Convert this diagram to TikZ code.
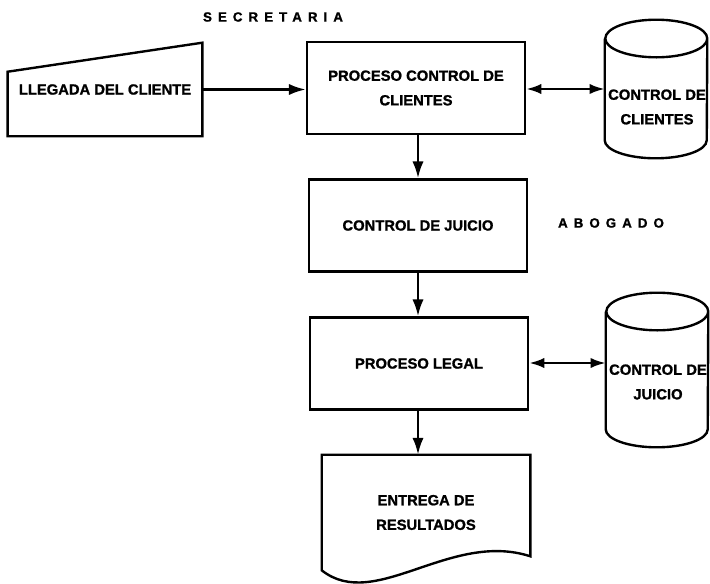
\documentclass[tikz,border=0pt]{standalone}
\usepackage{fontspec}
\setmainfont{Liberation Sans}[BoldFeatures={FakeBold=1.2}]
\usetikzlibrary{arrows.meta}

\tikzset{
  boxfont/.style={font=\bfseries\fontsize{10.5}{17.5}\selectfont},
  procbox/.style={draw, line width=1.7pt, minimum width=5.45cm, minimum height=2.3cm, align=center, boxfont},
  shapenode/.style={minimum width=#1, inner sep=0pt, align=center, boxfont},
  rolelabel/.style={font=\bfseries\fontsize{9.5}{11}\selectfont\addfontfeature{LetterSpace=45}},
  outline/.style={line width=1.7pt},
  flow/.style={line width=1.8pt, -{Latex[length=4.2mm,width=2.8mm]}},
  biflow/.style={line width=1.8pt, {Latex[length=3.8mm,width=2.6mm]}-{Latex[length=3.8mm,width=2.6mm]}}
}

% cylinder outline round a node
\newcommand{\dbdraw}[1]{%
  \draw[outline] ([yshift=-0.47cm]#1.north west) -- ([yshift=0.45cm]#1.south west)
    arc[start angle=180, end angle=360, x radius=1.275cm, y radius=0.45cm]
    -- ([yshift=-0.47cm]#1.north east)
    arc[start angle=0, end angle=360, x radius=1.275cm, y radius=0.47cm];
}

\begin{document}
\begin{tikzpicture}[x=0.025cm, y=-0.025cm]
  \useasboundingbox (0,0) rectangle (710,584);

  % Role labels
  \node[rolelabel] (secretaria) at (273,17) {SECRETARIA};
  \node[rolelabel] (abogado) at (611,223) {ABOGADO};

  % Arrival of the client (manual input)
  \node[shapenode=4.85cm, minimum height=2.325cm] (llegada) at (105,89.5) {LLEGADA DEL CLIENTE};
  \draw[outline] (llegada.south west) -- ([yshift=-0.725cm]llegada.north west)
    -- (llegada.north east) -- (llegada.south east) -- cycle;

  % Process boxes
  \node[procbox] (procClientes) at (416,88) {PROCESO CONTROL DE\\CLIENTES};
  \node[procbox] (ctrlJuicio) at (418,225.5) {CONTROL DE JUICIO};
  \node[procbox] (procLegal) at (419,363.5) {PROCESO LEGAL};

  % Data stores
  \node[shapenode=2.55cm, minimum height=3.45cm] (dbClientes) at (656,89) {};
  \dbdraw{dbClientes}
  \node[boxfont, align=center] (dbClientesText) at (657,107) {CONTROL DE\\CLIENTES};

  \node[shapenode=2.55cm, minimum height=3.85cm] (dbJuicio) at (657,370) {};
  \dbdraw{dbJuicio}
  \node[boxfont, align=center] (dbJuicioText) at (658,382) {CONTROL DE\\JUICIO};

  % Result document
  \node[shapenode=5.2cm, minimum height=2.875cm] (entrega) at (426,512.5) {ENTREGA DE\\RESULTADOS};
  \draw[outline] (entrega.north east) -- (entrega.north west) -- (entrega.south west)
    .. controls +(53,42) and +(-80,-26) .. ([yshift=0.35cm]entrega.south east) -- cycle;

  % Arrows
  \draw[flow] (llegada.east) -- (procClientes.west |- llegada.east);
  \draw[biflow] (procClientes.east |- dbClientes.west) -- (dbClientes.west);
  \draw[flow] (procClientes.south -| 418,0) -- (ctrlJuicio.north -| 418,0);
  \draw[flow] (ctrlJuicio.south -| 418,0) -- (procLegal.north -| 418,0);
  \draw[biflow] (procLegal.east |- 0,363) -- (dbJuicio.west |- 0,363);
  \draw[flow] (procLegal.south -| 418,0) -- (entrega.north -| 418,0);
\end{tikzpicture}
\end{document}
